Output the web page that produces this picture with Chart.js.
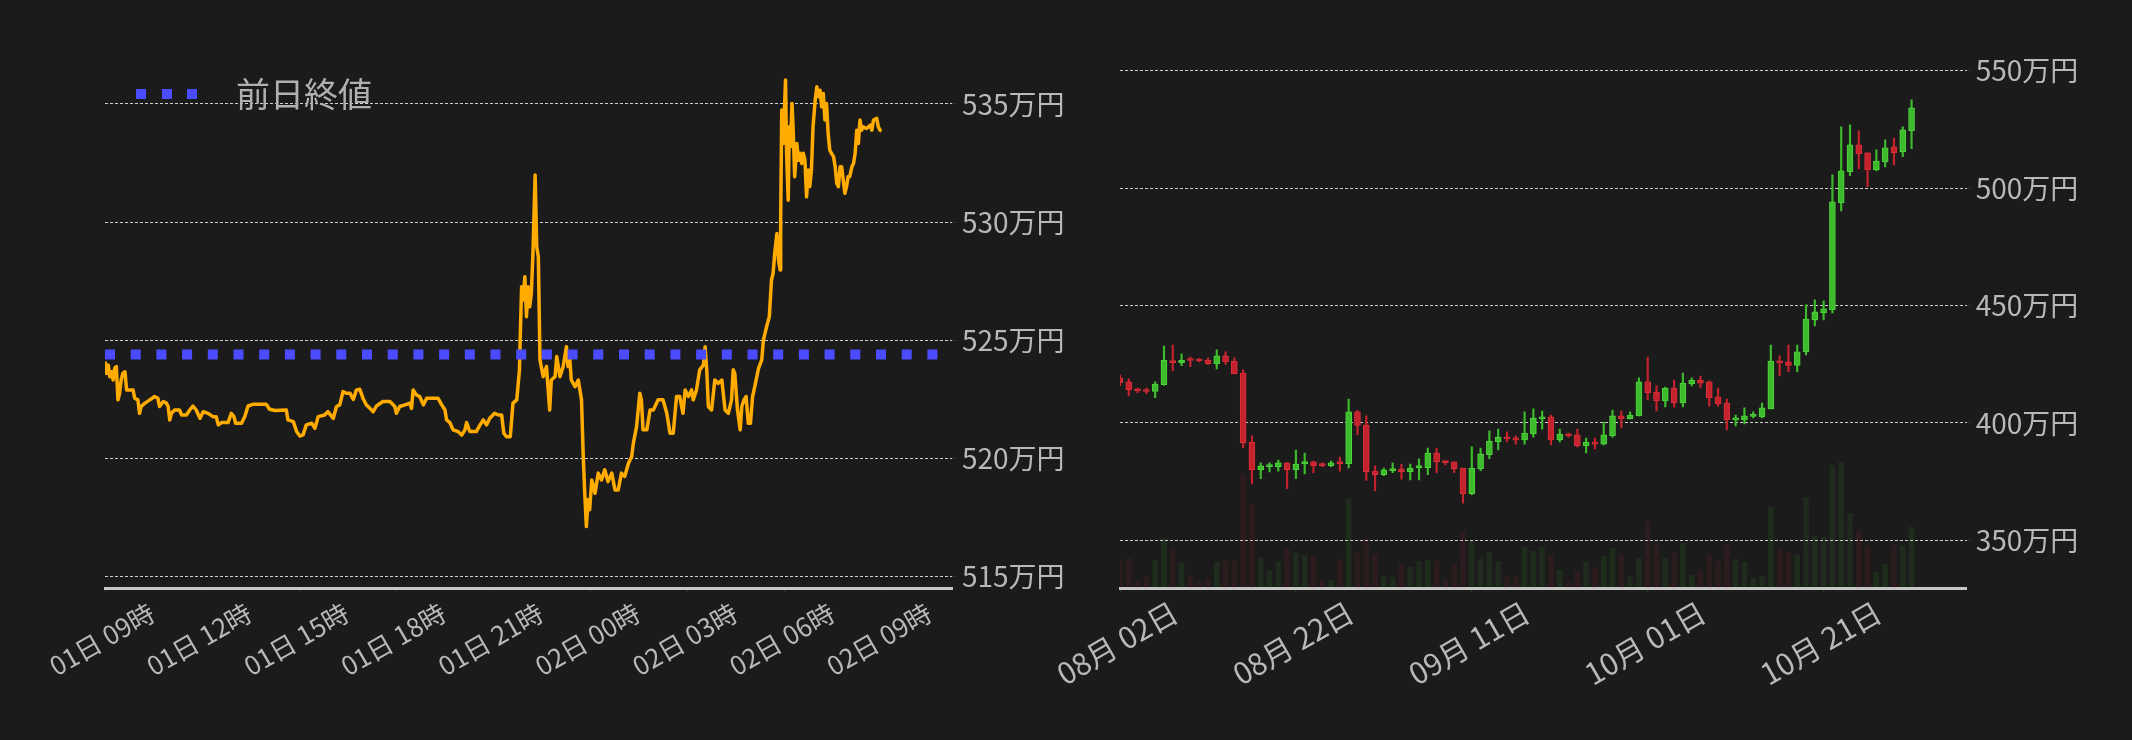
<!DOCTYPE html>
<html lang="ja">
<head>
  <meta charset="UTF-8" />
  <title>BTC/JPY</title>
  <script src="https://cdn.jsdelivr.net/npm/chart.js"></script>
  <style>
    body { margin: 0; background: #1b1b1b; }
    .wrap { position: relative; width: 2132px; height: 740px; }
    #dayChart { position: absolute; left: 0; top: 0; }
    /* overlaps the left panel a little so the first date label is not cut */
    #candleChart { position: absolute; left: 1016px; top: 0; }
  </style>
</head>
<body>
  <div class="wrap">
    <canvas id="dayChart" width="1066" height="740"></canvas>
    <canvas id="candleChart" width="1116" height="740"></canvas>
  </div>

  <script>
    // ---- intraday (minutes from 01日 09時, price in 万円)
    const lineMinutes = [0,3,6,9,12,15,18,21,24,27,30,33,37,40,46,52,55,61,64,67,74,83,92,98,101,108,114,117,120,123,129,138,142,151,157,163,169,176,182,191,200,206,210,216,228,234,239,242,253,259,265,274,299,305,315,336,339,349,355,361,367,373,383,389,395,407,413,423,429,435,441,447,454,460,466,472,478,484,491,497,503,515,528,537,540,546,556,565,568,571,577,583,590,596,608,617,624,630,633,639,645,654,661,667,670,676,688,695,701,707,713,722,729,735,739,744,751,756,763,768,769,772,775,778,781,784,787,790,793,797,800,803,806,812,818,824,827,834,837,843,849,855,858,861,864,871,877,883,886,889,892,895,898,902,908,914,920,926,932,939,945,951,957,963,970,976,979,985,991,994,997,1004,1010,1016,1025,1034,1041,1047,1053,1059,1065,1071,1075,1081,1087,1090,1096,1102,1109,1112,1115,1118,1124,1130,1136,1143,1149,1155,1161,1164,1167,1172,1177,1180,1184,1188,1192,1196,1200,1204,1211,1217,1220,1226,1231,1235,1238,1241,1245,1248,1251,1252,1254,1257,1259,1261,1263,1266,1268,1270,1273,1275,1278,1282,1285,1288,1291,1294,1297,1300,1303,1306,1309,1312,1316,1319,1322,1325,1328,1331,1334,1337,1340,1343,1346,1350,1353,1356,1359,1362,1365,1368,1371,1374,1377,1380,1384,1387,1390,1393,1396,1399,1402,1405,1411,1418,1421,1424,1430,1433,1436,1439];
    const linePrices = [524.10,523.60,523.95,523.46,523.67,523.32,523.82,523.89,522.48,522.76,523.32,523.60,523.67,522.90,522.90,522.90,522.55,522.48,521.91,522.20,522.34,522.48,522.62,522.55,522.20,522.41,522.34,522.20,521.63,521.91,522.05,522.05,521.84,521.84,522.05,522.22,522.05,521.70,521.98,521.91,521.77,521.77,521.42,521.52,521.52,521.91,521.77,521.49,521.49,521.77,522.22,522.29,522.29,522.08,522.03,522.05,521.63,521.56,521.14,520.95,521.00,521.42,521.49,521.28,521.77,521.84,521.98,521.70,522.20,522.27,522.83,522.76,522.76,522.50,522.90,522.93,522.55,522.27,522.12,521.98,522.22,522.41,522.41,522.20,521.91,522.20,522.27,522.34,522.12,522.90,522.69,522.62,522.27,522.55,522.55,522.55,522.27,522.05,521.63,521.52,521.21,521.14,520.99,521.21,521.52,521.14,521.14,521.42,521.63,521.42,521.70,521.91,521.84,521.84,521.07,520.92,520.92,522.34,522.48,523.75,524.73,527.27,526.71,527.69,526.00,527.27,526.42,526.99,528.68,531.99,528.96,528.54,524.17,523.46,523.89,522.05,523.32,523.46,524.31,523.46,523.89,524.73,523.89,524.31,523.32,523.04,523.32,522.48,520.22,518.53,517.12,518.25,517.83,519.09,518.53,519.38,519.09,519.52,519.02,519.38,518.67,518.67,519.38,519.24,519.80,520.08,520.64,521.35,522.76,522.48,521.21,521.21,522.05,522.05,522.48,522.48,521.91,521.07,521.07,522.62,522.62,521.91,522.90,522.62,522.90,522.48,522.90,523.75,523.96,524.73,523.75,522.20,522.05,523.32,523.18,523.32,522.05,521.91,522.48,523.75,523.60,522.05,521.21,522.20,522.48,522.62,521.49,521.49,522.62,523.04,523.81,524.17,525.01,525.58,526.00,527.55,527.83,528.68,529.52,528.40,527.97,530.09,534.74,533.33,534.74,536.01,532.91,530.93,534.03,533.19,535.02,534.03,531.92,533.33,532.62,532.91,532.48,532.91,532.62,531.07,532.20,531.50,532.20,534.03,535.16,535.73,535.30,535.58,534.88,535.44,534.32,535.02,533.75,533.05,532.91,532.77,532.34,531.64,531.50,532.34,532.34,531.78,531.22,531.50,531.92,531.92,532.34,532.48,532.91,533.89,533.33,534.32,533.89,534.03,533.96,534.10,533.89,534.32,534.39,534.03,533.89,533.86];
    const prevClose = 524.4;
    const timeTicks = [0, 180, 360, 540, 720, 900, 1080, 1260, 1440];
    const timeLabels = ['01日 09時', '01日 12時', '01日 15時', '01日 18時', '01日 21時', '02日 00時', '02日 03時', '02日 06時', '02日 09時'];
    const dayPriceTicks = [515, 520, 525, 530, 535];

    // ---- daily candles (万円)
    const dates = ['08-02','08-03','08-04','08-05','08-06','08-07','08-08','08-09','08-10','08-11','08-12','08-13','08-14','08-15','08-16','08-17','08-18','08-19','08-20','08-21','08-22','08-23','08-24','08-25','08-26','08-27','08-28','08-29','08-30','08-31',
      '09-01','09-02','09-03','09-04','09-05','09-06','09-07','09-08','09-09','09-10','09-11','09-12','09-13','09-14','09-15','09-16','09-17','09-18','09-19','09-20','09-21','09-22','09-23','09-24','09-25','09-26','09-27','09-28','09-29','09-30',
      '10-01','10-02','10-03','10-04','10-05','10-06','10-07','10-08','10-09','10-10','10-11','10-12','10-13','10-14','10-15','10-16','10-17','10-18','10-19','10-20','10-21','10-22','10-23','10-24','10-25','10-26','10-27','10-28','10-29','10-30','10-31'];
    const opens  = [419.2,417.5,414.5,414.1,413.4,416.3,426.4,425.7,426.8,426.8,426.8,425.3,428.6,426.4,421.3,391.9,380.1,381.4,381.4,383.0,380.1,382.7,383.4,382.2,381.7,383.1,382.7,404.7,399.1,379.5,378.0,379.7,380.4,379.3,381.0,381.0,387.2,383.8,383.4,380.8,369.9,380.5,386.5,391.9,394.0,393.6,392.8,395.3,401.7,402.6,392.8,395.3,394.9,390.2,391.9,391.0,394.5,403.0,401.7,403.0,417.5,413.2,409.4,414.9,408.5,416.6,418.3,417.5,411.1,408.5,401.3,401.3,402.8,402.6,406.0,426.4,426.0,424.5,430.3,443.9,446.9,448.2,493.8,507.0,518.5,515.1,507.8,511.2,517.6,515.5,524.4];
    const highs  = [420.5,418.8,414.9,414.9,417.5,432.8,433.2,429.4,428.1,427.4,427.7,431.1,430.3,427.7,422.6,394.5,383.0,383.0,384.2,383.1,388.5,387.2,383.8,383.0,383.8,385.5,410.2,405.4,403.0,381.7,380.8,383.0,382.5,382.5,384.7,389.3,389.3,383.8,383.4,380.8,389.8,389.3,396.6,397.4,396.2,394.5,404.7,406.0,405.1,403.4,397.4,395.7,397.4,393.6,393.6,400.4,405.5,405.1,404.7,419.2,428.1,415.8,415.3,418.3,421.3,419.2,420.0,417.9,414.9,410.2,403.4,406.4,404.7,408.5,433.2,428.6,433.2,433.2,450.3,452.4,452.0,505.7,526.1,527.0,524.4,515.1,516.3,520.6,521.4,526.1,537.6];
    const lows   = [415.8,411.6,412.9,412.5,410.8,416.0,422.3,424.4,424.0,426.0,424.9,423.0,424.9,420.9,389.5,374.0,376.3,379.1,379.5,372.0,376.3,378.3,378.8,381.4,381.4,379.5,380.8,394.9,375.5,371.0,377.6,378.8,376.1,375.7,375.7,378.0,378.8,382.1,378.8,365.8,369.5,379.7,384.8,388.5,391.9,391.0,391.0,394.0,397.4,390.6,391.9,394.0,389.8,387.2,388.9,390.6,394.0,397.9,401.7,403.0,409.8,405.1,406.8,406.8,406.8,415.8,414.9,407.2,407.2,397.0,398.7,399.6,402.1,402.1,406.0,420.0,421.9,421.9,429.0,441.3,443.9,446.9,490.3,505.3,508.2,500.6,507.4,509.1,509.9,513.4,516.8];
    const closes = [417.2,414.2,413.6,413.4,416.6,426.8,425.7,426.7,426.6,426.4,425.3,428.6,426.1,421.0,391.6,380.1,381.7,381.7,383.0,380.1,382.5,383.4,381.8,381.8,383.0,382.7,404.7,398.9,379.3,378.0,380.0,380.4,379.3,380.8,381.4,387.2,383.5,383.1,380.5,369.9,380.8,386.8,392.3,394.0,393.2,392.8,395.7,402.1,402.6,392.8,395.3,394.5,390.2,391.9,391.0,394.9,403.0,401.7,403.4,417.5,412.9,409.4,414.9,408.5,417.0,418.3,417.0,410.7,408.1,401.3,401.7,403.0,403.1,406.4,426.4,425.6,424.5,430.3,444.3,447.3,448.6,494.2,507.4,518.5,514.6,507.8,511.6,517.2,515.1,524.9,534.2];
    const volumes = [84,89,20,33,83,149,119,74,36,17,26,77,83,80,338,251,89,53,77,116,104,98,95,23,23,86,269,104,149,101,35,32,74,62,80,83,80,26,68,170,140,86,107,80,35,32,122,110,122,98,53,17,50,77,62,95,119,98,35,89,200,137,89,104,134,38,50,98,80,128,86,77,29,35,242,119,107,98,272,155,152,368,377,224,170,125,47,71,128,125,182];
    const dateTicks = [0, 20, 40, 60, 80];
    const candlePriceTicks = [350, 400, 450, 500, 550];

    const FONT = "'Noto Sans CJK JP', 'Noto Sans', sans-serif";
    const TEXT = '#b8b8b8';
    const GRID = '#d0d0d0';
    const TICK = '#1f3d24';
    const UP = '#3dbb2d', DOWN = '#c4232d';
    Chart.defaults.font.family = FONT;
    Chart.defaults.color = TEXT;

    const fixTicks = list => scale => { scale.ticks = list.map(v => ({ value: v })); };
    const fixSize = size => scale => {
      if (scale.isHorizontal()) scale.height = size; else scale.width = size;
      scale.paddingLeft = scale.paddingRight = scale.paddingTop = scale.paddingBottom = 0;
    };

    // legend mark: three blue squares
    const mark = document.createElement('canvas');
    mark.width = 104; mark.height = 10;
    const mctx = mark.getContext('2d');
    mctx.fillStyle = '#4b4bff';
    [21, 47, 72].forEach(x => mctx.fillRect(x, 0, 10, 10));

    // a 'chartArea' legend is laid out from the canvas top, move it into the plot
    const legendInArea = {
      id: 'legendInArea',
      afterLayout(chart) {
        if (!chart.legend) return;
        chart.legend.top = chart.chartArea.top - 1;
        chart.legend.bottom = chart.chartArea.bottom;
      }
    };

    const X_END = 1569.5;

    new Chart(document.getElementById('dayChart'), {
      type: 'line',
      data: {
        datasets: [
          {
            label: '前日終値',
            data: [{ x: 0, y: prevClose }, { x: X_END, y: prevClose }],
            borderColor: '#4b4bff', borderWidth: 10, borderDash: [10, 15.7], borderCapStyle: 'butt',
            pointRadius: 0
          },
          {
            label: '価格',
            data: lineMinutes.map((m, i) => ({ x: m, y: linePrices[i] })),
            borderColor: '#ffab00', borderWidth: 3.5, borderJoinStyle: 'round',
            pointRadius: 0, tension: 0
          }
        ]
      },
      options: {
        responsive: false, animation: false, devicePixelRatio: 1,
        layout: { padding: { left: 105, top: 68, right: 0, bottom: 0 } },
        plugins: {
          tooltip: { enabled: false },
          legend: {
            position: 'chartArea', align: 'start',
            labels: {
              filter: item => item.text === '前日終値',
              usePointStyle: true, pointStyle: mark, pointStyleWidth: 104,
              font: { size: 34 }, color: '#b0b0b0', padding: 10
            }
          }
        },
        scales: {
          x: {
            type: 'linear', min: 0, max: X_END,
            afterBuildTicks: fixTicks(timeTicks),
            afterFit: fixSize(152),
            ticks: {
              callback: (v, i) => timeLabels[i],
              minRotation: 30, maxRotation: 30, autoSkip: false,
              labelOffset: 47, padding: 5, font: { size: 26 }, color: TEXT
            },
            grid: { drawOnChartArea: false, drawTicks: true, tickLength: 4, tickColor: TICK },
            border: { display: true, color: '#c8c8c8', width: 3 }
          },
          y: {
            position: 'right', min: 514.52, max: 536.52,
            afterBuildTicks: fixTicks(dayPriceTicks),
            afterFit: fixSize(114),
            ticks: { callback: v => v + '万円', padding: 6, font: { size: 28 }, color: TEXT },
            grid: { color: GRID, lineWidth: 1, drawTicks: true, tickLength: 4, tickColor: TICK, tickBorderDash: [] },
            border: { display: false, dash: [3, 2] }
          }
        }
      },
      plugins: [legendInArea]
    });

    const isUp = i => closes[i] >= opens[i];

    new Chart(document.getElementById('candleChart'), {
      type: 'bar',
      data: {
        datasets: [
          {
            label: '実体',
            data: opens.map((o, i) => ({ x: i, y: [o, closes[i]] })),
            backgroundColor: ctx => isUp(ctx.dataIndex) ? UP : DOWN,
            borderColor: ctx => isUp(ctx.dataIndex) ? '#4fd33c' : '#d9303a',
            borderWidth: 1, borderSkipped: false, minBarLength: 2,
            barThickness: 6, grouped: false, order: 1, yAxisID: 'y'
          },
          {
            label: 'ヒゲ',
            data: lows.map((l, i) => ({ x: i, y: [l, highs[i]] })),
            backgroundColor: ctx => isUp(ctx.dataIndex) ? UP : DOWN,
            barThickness: 1.5, grouped: false, order: 2, yAxisID: 'y'
          },
          {
            label: '出来高',
            data: volumes.map((v, i) => ({ x: i, y: v })),
            backgroundColor: ctx => isUp(ctx.dataIndex) ? 'rgba(60,190,50,0.1)' : 'rgba(200,40,50,0.1)',
            barThickness: 5, grouped: false, order: 3, yAxisID: 'vol'
          }
        ]
      },
      options: {
        responsive: false, animation: false, devicePixelRatio: 1,
        layout: { padding: { left: 104, top: 68, right: 51.3, bottom: 0 } },
        plugins: { tooltip: { enabled: false }, legend: { display: false } },
        scales: {
          x: {
            type: 'linear', min: 0, max: 96.27, offset: false,
            afterBuildTicks: fixTicks(dateTicks),
            afterFit: fixSize(152),
            ticks: {
              callback: v => { const [m, d] = dates[v].split('-'); return m + '月 ' + d + '日'; },
              minRotation: 30, maxRotation: 30, autoSkip: false,
              labelOffset: 55, padding: 2, font: { size: 30 }, color: TEXT
            },
            grid: { offset: false, drawOnChartArea: false, drawTicks: true, tickLength: 4, tickColor: TICK },
            border: { display: true, color: '#c8c8c8', width: 3 }
          },
          y: {
            position: 'right', min: 329.7, max: 551.2,
            afterBuildTicks: fixTicks(candlePriceTicks),
            afterFit: fixSize(114),
            ticks: { callback: v => v + '万円', padding: 5, font: { size: 28 }, color: TEXT },
            grid: { color: GRID, lineWidth: 1, drawTicks: true, tickLength: 4, tickColor: TICK, tickBorderDash: [] },
            border: { display: false, dash: [3, 2] }
          },
          vol: { display: false, min: 0, max: 1561.5 }
        }
      }
    });
  </script>
</body>
</html>
